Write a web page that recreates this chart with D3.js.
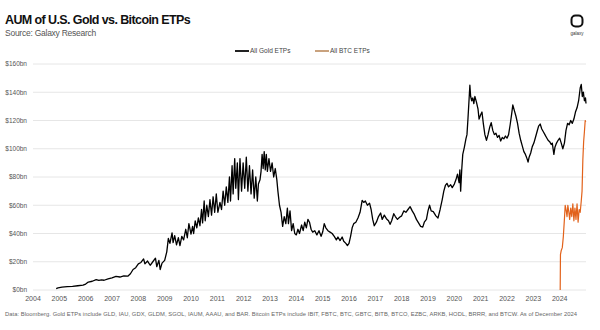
<!DOCTYPE html>
<html>
<head>
<meta charset="utf-8">
<script src="https://cdn.jsdelivr.net/npm/d3@7"></script>
<style>
  body { margin: 0; background: #fff; }
  svg { font-family: 'Liberation Sans', Arial, sans-serif; }
</style>
</head>
<body>
<div class="Canvas"></div>
<script>
const yearTicks = [2004, 2005, 2006, 2007, 2008, 2009, 2010, 2011, 2012, 2013, 2014,
  2015, 2016, 2017, 2018, 2019, 2020, 2021, 2022, 2023, 2024];
const valueTicks = [0, 20, 40, 60, 80, 100, 120, 140, 160];

// [decimal year, AUM $bn]
const goldSeries = [
  [2004.88, 1.0], [2004.95, 1.5], [2005.1, 2.0], [2005.3, 2.4], [2005.5, 2.6], [2005.7, 3.0],
  [2005.9, 3.4], [2006.0, 4.2], [2006.1, 5.6], [2006.25, 6.2], [2006.4, 7.4], [2006.5, 6.8],
  [2006.6, 7.2], [2006.7, 6.9], [2006.85, 7.8], [2007.0, 8.6], [2007.15, 9.6], [2007.3, 9.2],
  [2007.45, 10.0], [2007.6, 9.8], [2007.7, 11.5], [2007.8, 14.5], [2007.9, 15.8], [2008.0, 18.5],
  [2008.1, 19.5], [2008.2, 22.0], [2008.25, 18.5], [2008.35, 20.5], [2008.45, 17.5], [2008.55, 20.0],
  [2008.65, 22.5], [2008.7, 16.5], [2008.78, 21.0], [2008.83, 14.5], [2008.9, 19.0], [2009.0, 21.0],
  [2009.08, 27.0], [2009.14, 36.5], [2009.2, 33.0], [2009.28, 40.5], [2009.32, 33.5], [2009.38, 38.5],
  [2009.45, 32.0], [2009.52, 37.0], [2009.58, 31.5], [2009.65, 38.0], [2009.72, 35.5], [2009.8, 43.0],
  [2009.86, 37.0], [2009.92, 47.0], [2010.0, 39.5], [2010.06, 45.0], [2010.1, 40.0], [2010.16, 49.0],
  [2010.22, 44.0], [2010.28, 51.0], [2010.34, 45.5], [2010.4, 57.0], [2010.44, 47.5], [2010.5, 63.0],
  [2010.54, 49.0], [2010.6, 60.0], [2010.66, 52.0], [2010.72, 64.0], [2010.78, 53.0], [2010.84, 66.0],
  [2010.9, 55.0], [2010.96, 68.0], [2011.02, 55.0], [2011.1, 62.0], [2011.16, 57.0], [2011.22, 70.0],
  [2011.28, 60.0], [2011.34, 73.0], [2011.4, 62.0], [2011.46, 80.0], [2011.5, 63.0], [2011.56, 88.0],
  [2011.6, 68.0], [2011.66, 93.0], [2011.7, 72.0], [2011.76, 90.0], [2011.8, 64.0], [2011.86, 93.0],
  [2011.92, 70.0], [2011.98, 90.0], [2012.04, 72.0], [2012.1, 94.0], [2012.16, 70.0], [2012.22, 88.0],
  [2012.28, 68.0], [2012.34, 85.0], [2012.4, 65.0], [2012.46, 80.0], [2012.52, 63.0], [2012.56, 75.0],
  [2012.62, 78.0], [2012.66, 84.0], [2012.7, 96.0], [2012.74, 86.0], [2012.78, 98.0], [2012.82, 85.0],
  [2012.86, 96.0], [2012.9, 84.0], [2012.96, 93.0], [2013.02, 84.0], [2013.08, 90.0], [2013.14, 80.0],
  [2013.2, 86.0], [2013.26, 78.0], [2013.3, 70.0], [2013.36, 60.0], [2013.42, 55.0], [2013.48, 45.0],
  [2013.54, 52.0], [2013.6, 47.0], [2013.66, 58.0], [2013.7, 47.0], [2013.76, 56.0], [2013.82, 42.0],
  [2013.88, 47.0], [2013.94, 40.0], [2014.0, 39.0], [2014.06, 43.0], [2014.12, 40.0], [2014.2, 46.0],
  [2014.26, 42.0], [2014.32, 48.0], [2014.38, 44.0], [2014.44, 50.0], [2014.5, 48.0], [2014.56, 43.0],
  [2014.62, 41.0], [2014.7, 42.0], [2014.78, 39.0], [2014.86, 42.0], [2014.94, 38.0], [2015.0, 41.0],
  [2015.06, 47.0], [2015.12, 44.0], [2015.2, 42.0], [2015.28, 41.0], [2015.36, 40.0], [2015.44, 38.0],
  [2015.52, 35.5], [2015.58, 37.5], [2015.66, 35.0], [2015.74, 37.5], [2015.8, 34.5], [2015.88, 33.0],
  [2015.94, 31.5], [2016.0, 33.0], [2016.06, 38.0], [2016.12, 44.0], [2016.18, 47.0], [2016.26, 48.0],
  [2016.34, 51.0], [2016.42, 55.0], [2016.5, 63.5], [2016.56, 62.0], [2016.62, 63.0], [2016.7, 60.0],
  [2016.78, 61.5], [2016.84, 57.0], [2016.9, 50.0], [2016.96, 45.5], [2017.04, 48.0], [2017.12, 52.0],
  [2017.2, 54.5], [2017.26, 50.0], [2017.34, 53.0], [2017.42, 50.5], [2017.5, 49.0], [2017.56, 46.5],
  [2017.62, 49.0], [2017.7, 54.0], [2017.76, 52.0], [2017.84, 50.0], [2017.92, 51.5], [2018.0, 52.5],
  [2018.08, 56.0], [2018.16, 55.0], [2018.24, 57.0], [2018.32, 59.0], [2018.4, 56.0], [2018.48, 53.5],
  [2018.56, 50.0], [2018.64, 47.5], [2018.72, 45.0], [2018.8, 44.5], [2018.86, 48.0], [2018.94, 50.0],
  [2019.0, 56.0], [2019.06, 60.0], [2019.12, 56.0], [2019.2, 55.5], [2019.3, 52.5], [2019.38, 51.0],
  [2019.46, 57.0], [2019.54, 64.0], [2019.6, 70.0], [2019.66, 74.0], [2019.72, 75.5], [2019.78, 73.0],
  [2019.86, 74.5], [2019.92, 72.5], [2020.0, 75.0], [2020.06, 78.0], [2020.12, 82.0], [2020.18, 76.0],
  [2020.21, 85.0], [2020.24, 70.0], [2020.28, 85.0], [2020.32, 96.0], [2020.38, 101.0], [2020.44, 107.0],
  [2020.48, 110.0], [2020.52, 122.0], [2020.56, 135.0], [2020.59, 145.0], [2020.62, 137.0], [2020.66, 134.0],
  [2020.7, 136.0], [2020.74, 132.0], [2020.78, 137.0], [2020.84, 133.0], [2020.9, 128.0], [2020.94, 121.0],
  [2021.0, 124.0], [2021.05, 126.0], [2021.1, 118.0], [2021.16, 110.0], [2021.22, 106.0], [2021.28, 110.0],
  [2021.34, 115.0], [2021.4, 118.5], [2021.46, 113.0], [2021.52, 110.0], [2021.58, 111.0], [2021.64, 108.0],
  [2021.7, 109.5], [2021.76, 105.5], [2021.82, 108.0], [2021.88, 107.0], [2021.94, 109.0], [2022.0, 107.5],
  [2022.06, 110.0], [2022.12, 117.0], [2022.18, 125.0], [2022.22, 131.0], [2022.28, 127.0], [2022.34, 123.0],
  [2022.4, 118.0], [2022.46, 111.0], [2022.52, 106.0], [2022.58, 102.0], [2022.64, 98.0], [2022.7, 96.0],
  [2022.76, 93.0], [2022.8, 90.5], [2022.84, 94.0], [2022.9, 97.0], [2022.96, 101.5], [2023.02, 104.0],
  [2023.08, 108.0], [2023.14, 112.0], [2023.2, 116.0], [2023.26, 117.5], [2023.32, 114.0], [2023.38, 112.0],
  [2023.44, 110.0], [2023.5, 108.0], [2023.56, 106.0], [2023.62, 105.0], [2023.68, 103.0], [2023.72, 104.0],
  [2023.78, 96.0], [2023.82, 101.0], [2023.88, 104.0], [2023.94, 106.0], [2024.0, 107.5], [2024.06, 104.0],
  [2024.12, 100.0], [2024.18, 104.0], [2024.24, 113.0], [2024.3, 118.0], [2024.36, 117.0], [2024.42, 120.0],
  [2024.48, 118.0], [2024.54, 121.0], [2024.6, 126.0], [2024.66, 129.0], [2024.72, 134.0], [2024.78, 143.0],
  [2024.82, 145.5], [2024.86, 137.0], [2024.9, 140.0], [2024.94, 134.0], [2024.98, 136.0], [2025.0, 132.0]
];

const btcSeries = [
  [2024.02, 0], [2024.03, 25], [2024.06, 28], [2024.1, 30], [2024.14, 38], [2024.18, 50],
  [2024.21, 60], [2024.25, 56], [2024.28, 52], [2024.31, 60], [2024.35, 55], [2024.38, 50],
  [2024.42, 58], [2024.46, 52], [2024.5, 61], [2024.54, 49], [2024.58, 58], [2024.62, 50],
  [2024.66, 61], [2024.7, 48], [2024.74, 57], [2024.78, 55], [2024.82, 63], [2024.85, 70],
  [2024.88, 92], [2024.91, 105], [2024.94, 112], [2024.97, 120], [2024.99, 119]
];

const width = 600;
const height = 330;
const plotLeft = 33;
const plotRight = 586;
const plotTop = 64;
const plotBottom = 290;

const svg = d3.select('.Canvas').append('svg').attr('width', width).attr('height', height);

const x = d3.scaleLinear().domain([2004, 2025]).range([plotLeft, plotRight]);
const y = d3.scaleLinear().domain([0, 160]).range([plotBottom, plotTop]);

// title block
svg.append('text').attr('x', 5).attr('y', 24)
  .attr('font-size', '12.5px').attr('font-weight', 'bold').attr('letter-spacing', '-0.6px')
  .attr('fill', '#111').text('AUM of U.S. Gold vs. Bitcoin ETPs');
svg.append('text').attr('x', 5).attr('y', 36)
  .attr('font-size', '8.5px').attr('letter-spacing', '-0.25px')
  .attr('fill', '#555').text('Source: Galaxy Research');

// galaxy logo
svg.append('rect').attr('x', 571.5).attr('y', 15.5).attr('width', 11).attr('height', 11)
  .attr('rx', 4).attr('fill', 'none').attr('stroke', '#111').attr('stroke-width', 2);
svg.append('text').attr('x', 577).attr('y', 35).attr('text-anchor', 'middle')
  .attr('font-size', '4.5px').attr('fill', '#333').text('galaxy');

// legend
const legend = [
  { label: 'All Gold ETPs', color: '#222', x: 235 },
  { label: 'All BTC ETPs', color: '#c9a27e', x: 315 },
];
legend.forEach((d) => {
  svg.append('line').attr('x1', d.x).attr('x2', d.x + 14).attr('y1', 51).attr('y2', 51)
    .attr('stroke', d.color).attr('stroke-width', 2);
  svg.append('text').attr('x', d.x + 15).attr('y', 53.3)
    .attr('font-size', '6.5px').attr('fill', '#444').text(d.label);
});

// grid + y labels
const yAxis = svg.append('g').attr('class', 'yaxis');
yAxis.selectAll('line').data(valueTicks).enter().append('line')
  .attr('x1', plotLeft).attr('x2', plotRight)
  .attr('y1', (d) => y(d)).attr('y2', (d) => y(d))
  .attr('stroke', '#e6e6e6').attr('stroke-width', 1);
yAxis.selectAll('text').data(valueTicks).enter().append('text')
  .attr('x', 27).attr('y', (d) => y(d) + 2.3)
  .attr('text-anchor', 'end').attr('font-size', '6.5px').attr('fill', '#555')
  .text((d) => `$${d}bn`);

// x labels
svg.append('g').selectAll('text').data(yearTicks).enter().append('text')
  .attr('x', (d) => x(d)).attr('y', 300.5)
  .attr('text-anchor', 'middle').attr('font-size', '7px').attr('fill', '#555')
  .text((d) => d);

const line = d3.line().x((d) => x(d[0])).y((d) => y(d[1]));

svg.append('path').datum(goldSeries).attr('d', line)
  .attr('fill', 'none').attr('stroke', '#000').attr('stroke-width', 1.3)
  .attr('stroke-linejoin', 'round');
svg.append('path').datum(btcSeries).attr('d', line)
  .attr('fill', 'none').attr('stroke', '#e2621b').attr('stroke-width', 1.2)
  .attr('stroke-linejoin', 'round');

// footer
svg.append('text').attr('x', 5).attr('y', 316)
  .attr('font-size', '5.8px').attr('fill', '#666')
  .attr('textLength', 572).attr('lengthAdjust', 'spacing')
  .text('Data: Bloomberg. Gold ETPs include GLD, IAU, GDX, GLDM, SGOL, IAUM, AAAU, and BAR. Bitcoin ETPs include IBIT, FBTC, BTC, GBTC, BITB, BTCO, EZBC, ARKB, HODL, BRRR, and BTCW. As of December 2024');
</script>
</body>
</html>
